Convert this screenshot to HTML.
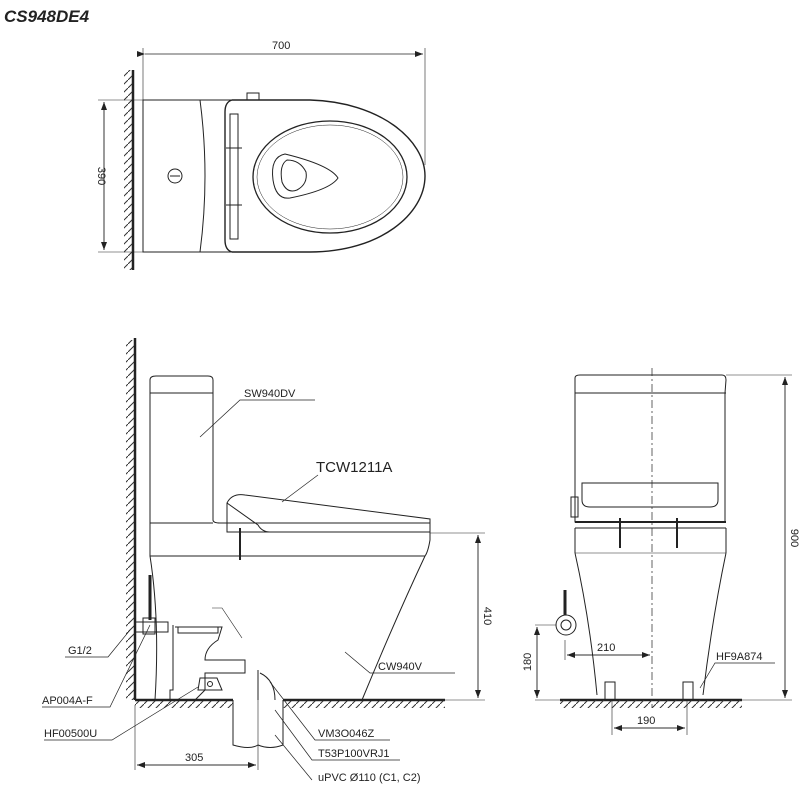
<!DOCTYPE html>
<html><head><meta charset="utf-8"><style>
html,body{margin:0;padding:0;background:#fff;}
svg{display:block}
text{font-family:"Liberation Sans",sans-serif;fill:#222}
</style></head><body>
<svg width="800" height="800" viewBox="0 0 800 800" xmlns="http://www.w3.org/2000/svg">
<defs>
<pattern id="hv" width="8" height="8" patternUnits="userSpaceOnUse"><line x1="0" y1="8" x2="8" y2="0" stroke="#333" stroke-width="1"/></pattern>
<marker id="ar" markerWidth="8" markerHeight="6" refX="8" refY="3" orient="auto" markerUnits="userSpaceOnUse"><path d="M0,0 L8,3 L0,6 z" fill="#222"/></marker>
</defs>
<text x="4" y="22" font-size="17" font-weight="bold" font-style="italic" fill="#111">CS948DE4</text>

<g fill="none" stroke="#222" stroke-width="1">
<!-- TOP VIEW -->
<rect x="124" y="70" width="9" height="200" fill="url(#hv)" stroke="none"/>
<line x1="133" y1="70" x2="133" y2="270" stroke-width="2.5"/>
<line x1="143" y1="48" x2="143" y2="100" stroke-width="0.6"/>
<line x1="425" y1="48" x2="425" y2="165" stroke-width="0.6"/>
<line x1="145" y1="54" x2="423" y2="54" marker-start="url(#ar)" marker-end="url(#ar)" stroke-width="0.7" style="marker-start:url(#ar)"/>
<line x1="98" y1="100" x2="143" y2="100" stroke-width="0.6"/>
<line x1="98" y1="252" x2="143" y2="252" stroke-width="0.6"/>
<line x1="104" y1="102" x2="104" y2="250" stroke-width="0.7" marker-end="url(#ar)"/>
<line x1="104" y1="250" x2="104" y2="102" stroke-width="0.7" marker-end="url(#ar)"/>
<path d="M143,100 H200 Q210,176 200,252 H143 Z"/>
<path d="M200,100 H232 M200,252 H232"/>
<circle cx="175" cy="176" r="7"/><line x1="170" y1="176" x2="180" y2="176"/>
<path d="M232,100 H310 C380,102 425,140 425,176 C425,214 380,252 310,252 H232 Q225,250 225,240 V112 Q225,102 232,100 Z" stroke-width="1.4"/>
<rect x="230" y="114" width="8" height="125"/>
<line x1="226" y1="148" x2="242" y2="148"/><line x1="226" y1="205" x2="242" y2="205"/>
<rect x="247" y="93" width="12" height="7"/>
<ellipse cx="330" cy="177" rx="77" ry="56" stroke-width="1.3"/>
<ellipse cx="330" cy="177" rx="73" ry="52" stroke-width="0.5"/>
<path d="M285,154 Q270,157 273,180 Q276,200 290,198 Q330,190 338,178 Q330,165 285,154 Z"/>
<path d="M287,160 Q279,165 282,182 Q287,194 297,190 Q308,184 306,172 Q300,160 287,160 Z"/>

<!-- SIDE VIEW -->
<rect x="126" y="340" width="9" height="360" fill="url(#hv)" stroke="none"/>
<line x1="135" y1="338" x2="135" y2="700" stroke-width="2.5"/>
<rect x="135" y="700" width="98" height="8" fill="url(#hv)" stroke="none"/>
<rect x="283" y="700" width="162" height="8" fill="url(#hv)" stroke="none"/>
<line x1="135" y1="700" x2="233" y2="700" stroke-width="2.5"/>
<line x1="283" y1="700" x2="445" y2="700" stroke-width="2.5"/>
<path d="M233,700 V745 Q250,750 258,745 Q270,750 283,745 V700"/>
<path d="M150,380 Q150,376 156,376 H208 Q213,376 213,380 V520 Q213,523 220,523 H430 V540 Q428,552 425,556 H150 Z"/>
<line x1="150" y1="393" x2="213" y2="393"/>
<line x1="150" y1="380" x2="150" y2="523"/><line x1="150" y1="523" x2="213" y2="523"/>
<path d="M227,503 Q232,493 245,495 L430,519 V532 H227 Z"/>
<path d="M227,503 L258,525 Q262,532 270,532"/>
<path d="M150,556 Q160,620 155,700"/>
<path d="M425,556 Q395,620 362,700"/>
<line x1="240" y1="528" x2="240" y2="560" stroke-width="2"/>
<line x1="430" y1="533" x2="485" y2="533" stroke-width="0.6"/>
<line x1="445" y1="700" x2="485" y2="700" stroke-width="0.6"/>
<line x1="478" y1="535" x2="478" y2="698" marker-end="url(#ar)" stroke-width="0.7"/>
<line x1="478" y1="698" x2="478" y2="535" marker-end="url(#ar)" stroke-width="0.7"/>
<line x1="150" y1="575" x2="150" y2="620" stroke-width="3"/>
<path d="M135,622 H168 V632 H135 M143,618 h12 v16 h-12z"/>
<path d="M173,625 V690 H170 V700 M175,627 H222 L218,640 Q205,648 205,660 H245 V673 H205 V690 L195,700"/>
<path d="M178,627 h40 v6 h-40z"/>
<path d="M212,608 l10,0 l20,30" stroke-width="0.6"/>
<path d="M200,678 h17 l5,12 h-24z"/><circle cx="210" cy="684" r="2.5"/>
<path d="M260,673 Q275,680 275,700 M258,670 V700" />
<line x1="135" y1="705" x2="135" y2="770" stroke-width="0.6"/>
<line x1="258" y1="690" x2="258" y2="770" stroke-width="0.6"/>
<line x1="137" y1="765" x2="256" y2="765" marker-end="url(#ar)" stroke-width="0.7"/>
<line x1="256" y1="765" x2="137" y2="765" marker-end="url(#ar)" stroke-width="0.7"/>

<!-- leaders -->
<path d="M315,400 H240 L200,437" stroke-width="0.7"/>
<path d="M318,475 L282,502" stroke-width="0.7"/>
<path d="M65,657 H108 L130,630" stroke-width="0.7"/>
<path d="M42,707 H110 L150,625" stroke-width="0.7"/>
<path d="M44,740 H112 L198,687" stroke-width="0.7"/>
<path d="M455,673 H370 L345,652" stroke-width="0.7"/>
<path d="M390,740 H315 L270,682" stroke-width="0.7"/>
<path d="M400,760 H312 L275,710" stroke-width="0.7"/>
<path d="M312,780 L275,735" stroke-width="0.7"/>

<!-- FRONT VIEW -->
<line x1="652" y1="368" x2="652" y2="708" stroke-dasharray="8,3,2,3" stroke-width="0.7"/>
<path d="M575,378 Q575,375 580,375 H722 Q726,375 726,380 L725,393 V522 H575 V393 Z"/>
<line x1="575" y1="393" x2="726" y2="393"/>
<path d="M582,483 H718 V500 Q718,507 710,507 H590 Q582,507 582,500 Z"/>
<path d="M571,497 h7 v20 h-7z"/>
<line x1="575" y1="522" x2="726" y2="522" stroke-width="2"/>
<line x1="575" y1="528" x2="726" y2="528"/>
<path d="M575,528 V553 M726,528 V553"/>
<line x1="575" y1="553" x2="726" y2="553" stroke-width="0.6"/>
<path d="M575,553 Q590,620 597,695 M726,553 Q712,620 703,695"/>
<path d="M620,518 v30 M677,518 v30" stroke-width="2"/>
<line x1="560" y1="700" x2="742" y2="700" stroke-width="2.5"/>
<rect x="560" y="700" width="182" height="8" fill="url(#hv)" stroke="none"/>
<rect x="605" y="682" width="10" height="18"/><rect x="683" y="682" width="10" height="18"/>
<line x1="726" y1="375" x2="792" y2="375" stroke-width="0.6"/>
<line x1="742" y1="700" x2="792" y2="700" stroke-width="0.6"/>
<line x1="785" y1="377" x2="785" y2="698" marker-end="url(#ar)" stroke-width="0.7"/>
<line x1="785" y1="698" x2="785" y2="377" marker-end="url(#ar)" stroke-width="0.7"/>
<line x1="565" y1="590" x2="565" y2="615" stroke-width="3"/>
<circle cx="566" cy="625" r="10"/><circle cx="566" cy="625" r="5"/>
<line x1="535" y1="625" x2="556" y2="625" stroke-width="0.6"/>
<line x1="535" y1="700" x2="560" y2="700" stroke-width="0.6"/>
<line x1="537" y1="627" x2="537" y2="698" marker-end="url(#ar)" stroke-width="0.7"/>
<line x1="537" y1="698" x2="537" y2="627" marker-end="url(#ar)" stroke-width="0.7"/>
<line x1="565" y1="640" x2="565" y2="660" stroke-width="0.6"/>
<line x1="567" y1="655" x2="650" y2="655" marker-end="url(#ar)" stroke-width="0.7"/>
<line x1="650" y1="655" x2="567" y2="655" marker-end="url(#ar)" stroke-width="0.7"/>
<line x1="612" y1="700" x2="612" y2="735" stroke-width="0.6"/>
<line x1="687" y1="700" x2="687" y2="735" stroke-width="0.6"/>
<line x1="614" y1="728" x2="685" y2="728" marker-end="url(#ar)" stroke-width="0.7"/>
<line x1="685" y1="728" x2="614" y2="728" marker-end="url(#ar)" stroke-width="0.7"/>
<path d="M775,663 H715 L700,688" stroke-width="0.7"/>
</g>

<g font-size="11">
<text x="272" y="49">700</text>
<text transform="translate(98,176) rotate(90)" text-anchor="middle">390</text>
<text x="244" y="397" font-size="11">SW940DV</text>
<text x="316" y="472" font-size="15">TCW1211A</text>
<text x="68" y="654">G1/2</text>
<text x="42" y="704">AP004A-F</text>
<text x="44" y="737">HF00500U</text>
<text x="378" y="670">CW940V</text>
<text x="318" y="737">VM3O046Z</text>
<text x="318" y="757">T53P100VRJ1</text>
<text x="318" y="781">uPVC Ø110 (C1, C2)</text>
<text x="185" y="761">305</text>
<text transform="translate(484,616) rotate(90)" text-anchor="middle">410</text>
<text transform="translate(791,538) rotate(90)" text-anchor="middle">900</text>
<text x="597" y="651">210</text>
<text transform="translate(531,662) rotate(-90)" text-anchor="middle">180</text>
<text x="716" y="660">HF9A874</text>
<text x="637" y="724">190</text>
</g>
</svg>
</body></html>
